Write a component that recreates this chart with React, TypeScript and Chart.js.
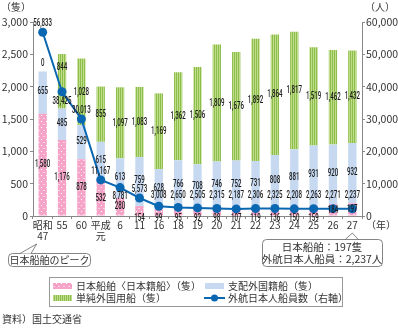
import React, { useEffect, useRef } from "react";
import { Chart, registerables } from "chart.js";

Chart.register(...registerables);

const CATEGORIES: (string | string[])[] = [["昭和", "47"], "55", "60", ["平成", "元"], "6", "11", "16", "18", "19", "20", "21", "22", "23", "24", "25", "26", "27"];
const JAPANESE_SHIPS = [1580, 1176, 878, 532, 280, 154, 99, 95, 92, 98, 107, 119, 136, 150, 159, 184, 197];
const CONTROLLED_FOREIGN = [655, 485, 529, 615, 613, 759, 628, 766, 708, 746, 752, 731, 808, 881, 931, 920, 932];
const CHARTERED_FOREIGN = [0, 844, 1028, 855, 1097, 1083, 1169, 1362, 1506, 1809, 1676, 1892, 1864, 1817, 1519, 1462, 1432];
const CREW = [56833, 38425, 30013, 11167, 8781, 5573, 3008, 2650, 2505, 2315, 2187, 2306, 2325, 2208, 2263, 2271, 2237];

const SERIES_NAMES = ["日本船舶〈日本籍船〉（隻）", "支配外国籍船（隻）", "単純外国用船（隻）", "外航日本人船員数（右軸）"];
const LEFT_MAX = 3000;
const LEFT_STEP = 500;
const RIGHT_MAX = 60000;
const RIGHT_STEP = 10000;
const CREW_LABELS_BELOW = [1, 4];

const PINK = "#f5a3c7";
const BLUE = "#c6d9f1";
const GREEN_A = "#8dbd4c";
const GREEN_B = "#c0dd8a";
const LINE = "#0a67b2";
const TEXT = "#333";
const JP = "'Noto Sans CJK JP', 'Noto Sans', sans-serif";
const NUM = "Roboto, 'Liberation Sans', sans-serif";

function makePink(): CanvasPattern | string {
  const c = document.createElement("canvas");
  c.width = 5; c.height = 6;
  const g = c.getContext("2d");
  if (!g) return PINK;
  g.fillStyle = PINK; g.fillRect(0, 0, 5, 6);
  g.fillStyle = "#ffffff";
  g.fillRect(1, 1, 1, 1);
  g.fillRect(3.5, 4, 1, 1);
  return g.createPattern(c, "repeat") || PINK;
}
function makeGreen(): CanvasPattern | string {
  const c = document.createElement("canvas");
  c.width = 2; c.height = 2;
  const g = c.getContext("2d");
  if (!g) return GREEN_A;
  g.fillStyle = GREEN_B; g.fillRect(0, 0, 2, 2);
  g.fillStyle = GREEN_A; g.fillRect(0, 0, 1, 2);
  return g.createPattern(c, "repeat") || GREEN_A;
}

const fmt = (v: number) => v.toLocaleString("en-US");

function numText(ctx: CanvasRenderingContext2D, s: string, x: number, y: number) {
  ctx.save();
  ctx.translate(x, y);
  ctx.scale(0.56, 1);
  ctx.fillText(s, 0, 0);
  ctx.restore();
}

function roundRect(ctx: CanvasRenderingContext2D, x: number, y: number, w: number, h: number, r: number) {
  ctx.beginPath();
  ctx.moveTo(x + r, y);
  ctx.lineTo(x + w - r, y);
  ctx.quadraticCurveTo(x + w, y, x + w, y + r);
  ctx.lineTo(x + w, y + h - r);
  ctx.quadraticCurveTo(x + w, y + h, x + w - r, y + h);
  ctx.lineTo(x + r, y + h);
  ctx.quadraticCurveTo(x, y + h, x, y + h - r);
  ctx.lineTo(x, y + r);
  ctx.quadraticCurveTo(x, y, x + r, y);
  ctx.closePath();
}

const labelPlugin = {
  id: "valueLabels",
  afterDatasetsDraw(chart: any) {
    const ctx: CanvasRenderingContext2D = chart.ctx;
    const axisY = chart.scales.y.getPixelForValue(0);
    const mPink = chart.getDatasetMeta(0).data;
    const mBlue = chart.getDatasetMeta(1).data;
    const mGreen = chart.getDatasetMeta(2).data;
    const mLine = chart.getDatasetMeta(3).data;
    ctx.save();
    ctx.fillStyle = "#1a1a1a";
    ctx.font = `500 11px ${NUM}`;
    ctx.textAlign = "center";
    ctx.textBaseline = "middle";
    JAPANESE_SHIPS.forEach((v, i) => {
      const el = mPink[i];
      const h = el.base - el.y;
      const y = h < 10 ? axisY + 2 : (el.y + el.base) / 2;
      numText(ctx, fmt(v), el.x, y);
    });
    CONTROLLED_FOREIGN.forEach((v, i) => {
      const el = mBlue[i];
      numText(ctx, fmt(v), el.x, (el.y + el.base) / 2 - 1);
    });
    CHARTERED_FOREIGN.forEach((v, i) => {
      const el = mGreen[i];
      let y = (el.y + el.base) / 2;
      if (v === 0) y = mBlue[i].y - 8;
      else if (Math.abs(y - mLine[i].y) < 20) y = el.y + 13;
      numText(ctx, fmt(v), el.x, y);
    });
    CREW.forEach((v, i) => {
      const p = mLine[i];
      const y = CREW_LABELS_BELOW.includes(i) ? p.y + 9 : Math.min(p.y - 9, axisY - 21);
      numText(ctx, fmt(v), p.x, y);
    });
    ctx.restore();
  },
  afterDraw(chart: any) {
    const ctx: CanvasRenderingContext2D = chart.ctx;
    const area = chart.chartArea;
    const xs = chart.scales.x;
    ctx.save();
    ctx.fillStyle = TEXT;
    ctx.font = `10px ${JP}`;
    ctx.textBaseline = "middle";
    ctx.textAlign = "left";
    ctx.fillText("（隻）", 1, 7);
    ctx.fillText("（人）", area.right + 3, 7);
    ctx.fillText("（年）", area.right + 4, 225);
    ctx.fillText("資料）国土交通省", 2, 319);

    // callout 1
    ctx.strokeStyle = "#666";
    ctx.lineWidth = 0.8;
    const firstX = xs.getPixelForValue(0);
    roundRect(ctx, 8.5, 253.5, 82, 13, 4);
    ctx.fillStyle = "#fff";
    ctx.fill();
    ctx.stroke();
    ctx.fillStyle = "#fff";
    ctx.beginPath();
    ctx.moveTo(20, 253.5);
    ctx.lineTo(firstX - 6, 244);
    ctx.lineTo(31, 253.5);
    ctx.fill();
    ctx.stroke();
    ctx.fillStyle = TEXT;
    ctx.textAlign = "center";
    ctx.fillText("日本船舶のピーク", 49.5, 260.5);

    // callout 2
    const lastX = xs.getPixelForValue(CREW.length - 1);
    roundRect(ctx, 262.5, 239.5, 120, 27, 4);
    ctx.fillStyle = "#fff";
    ctx.fill();
    ctx.stroke();
    ctx.beginPath();
    ctx.moveTo(lastX - 7, 239.5);
    ctx.lineTo(lastX, 233);
    ctx.lineTo(lastX + 6, 239.5);
    ctx.stroke();
    ctx.fillStyle = TEXT;
    ctx.font = `10.5px ${JP}`;
    ctx.fillText(`日本船舶：${JAPANESE_SHIPS[JAPANESE_SHIPS.length - 1]}隻`, 322, 247);
    ctx.fillText(`外航日本人船員：${fmt(CREW[CREW.length - 1])}人`, 322, 259.5);

    // legend
    ctx.strokeStyle = "#999";
    ctx.lineWidth = 1;
    ctx.strokeRect(49.5, 277.5, 293, 29);
    const r1 = 286, r2 = 298;
    ctx.fillStyle = chart.data.datasets[0].backgroundColor;
    ctx.fillRect(53, r1 - 3, 19, 6);
    ctx.fillStyle = chart.data.datasets[2].backgroundColor;
    ctx.fillRect(53, r2 - 3, 19, 6);
    ctx.fillStyle = BLUE;
    ctx.fillRect(205, r1 - 3, 19, 6);
    ctx.strokeStyle = LINE;
    ctx.lineWidth = 2;
    ctx.beginPath();
    ctx.moveTo(204, r2);
    ctx.lineTo(225, r2);
    ctx.stroke();
    ctx.fillStyle = LINE;
    ctx.beginPath();
    ctx.arc(214.5, r2, 3.5, 0, Math.PI * 2);
    ctx.fill();
    ctx.fillStyle = TEXT;
    ctx.font = `10px ${JP}`;
    ctx.textAlign = "left";
    ctx.fillText(SERIES_NAMES[0], 76, r1);
    ctx.fillText(SERIES_NAMES[2], 76, r2);
    ctx.fillText(SERIES_NAMES[1], 228, r1);
    ctx.fillText(SERIES_NAMES[3], 228, r2);
    ctx.restore();
  },
};

export default function App() {
  const ref = useRef<HTMLCanvasElement | null>(null);
  useEffect(() => {
    document.body.style.margin = "0";
    if (!ref.current) return;
    const tickFont = { family: JP, size: 10 };
    const chart = new Chart(ref.current, {
      type: "bar",
      data: {
        labels: CATEGORIES as any,
        datasets: [
          { type: "bar", label: SERIES_NAMES[0], data: JAPANESE_SHIPS, backgroundColor: makePink() as any, yAxisID: "y", order: 1, barPercentage: 0.43, categoryPercentage: 1 },
          { type: "bar", label: SERIES_NAMES[1], data: CONTROLLED_FOREIGN, backgroundColor: BLUE, yAxisID: "y", order: 1, barPercentage: 0.43, categoryPercentage: 1 },
          { type: "bar", label: SERIES_NAMES[2], data: CHARTERED_FOREIGN, backgroundColor: makeGreen() as any, yAxisID: "y", order: 1, barPercentage: 0.43, categoryPercentage: 1 },
          { type: "line", label: SERIES_NAMES[3], data: CREW, borderColor: LINE, backgroundColor: LINE, borderWidth: 2, pointRadius: 4.5, pointBorderWidth: 0, yAxisID: "y1", order: 0 } as any,
        ],
      },
      options: {
        responsive: false,
        animation: false,
        layout: { padding: { left: 0, right: 0, top: 22, bottom: 82 } },
        plugins: { legend: { display: false }, tooltip: { enabled: false } },
        scales: {
          x: {
            stacked: true,
            offset: true,
            grid: { display: true, drawOnChartArea: false, tickLength: 3, color: "#888", offset: true },
            border: { color: "#888" },
            ticks: { color: TEXT, font: { ...tickFont, lineHeight: 1.05 }, padding: 1, maxRotation: 0, autoSkip: false },
            afterFit: (s: any) => { s.height = 30; },
          },
          y: {
            stacked: true,
            position: "left",
            min: 0,
            max: LEFT_MAX,
            grid: { display: true, drawOnChartArea: false, tickLength: 3, color: "#888" },
            border: { color: "#888" },
            ticks: { stepSize: LEFT_STEP, color: TEXT, font: { ...tickFont, size: 10.5 }, padding: 2, callback: (v: any) => fmt(Number(v)) },
            afterFit: (s: any) => { s.width = 33; },
          },
          y1: {
            position: "right",
            min: 0,
            max: RIGHT_MAX,
            grid: { display: true, drawOnChartArea: false, tickLength: 3, color: "#888" },
            border: { color: "#888" },
            ticks: { stepSize: RIGHT_STEP, color: TEXT, font: { ...tickFont, size: 10.5 }, padding: 1, callback: (v: any) => fmt(Number(v)) },
            afterFit: (s: any) => { s.width = 36; },
          },
        },
      },
      plugins: [labelPlugin],
    });
    return () => chart.destroy();
  }, []);
  return (
    <div style={{ width: 398, height: 328, position: "relative", background: "#fff" }}>
      <canvas ref={ref} width={398} height={328} style={{ display: "block" }} />
    </div>
  );
}
